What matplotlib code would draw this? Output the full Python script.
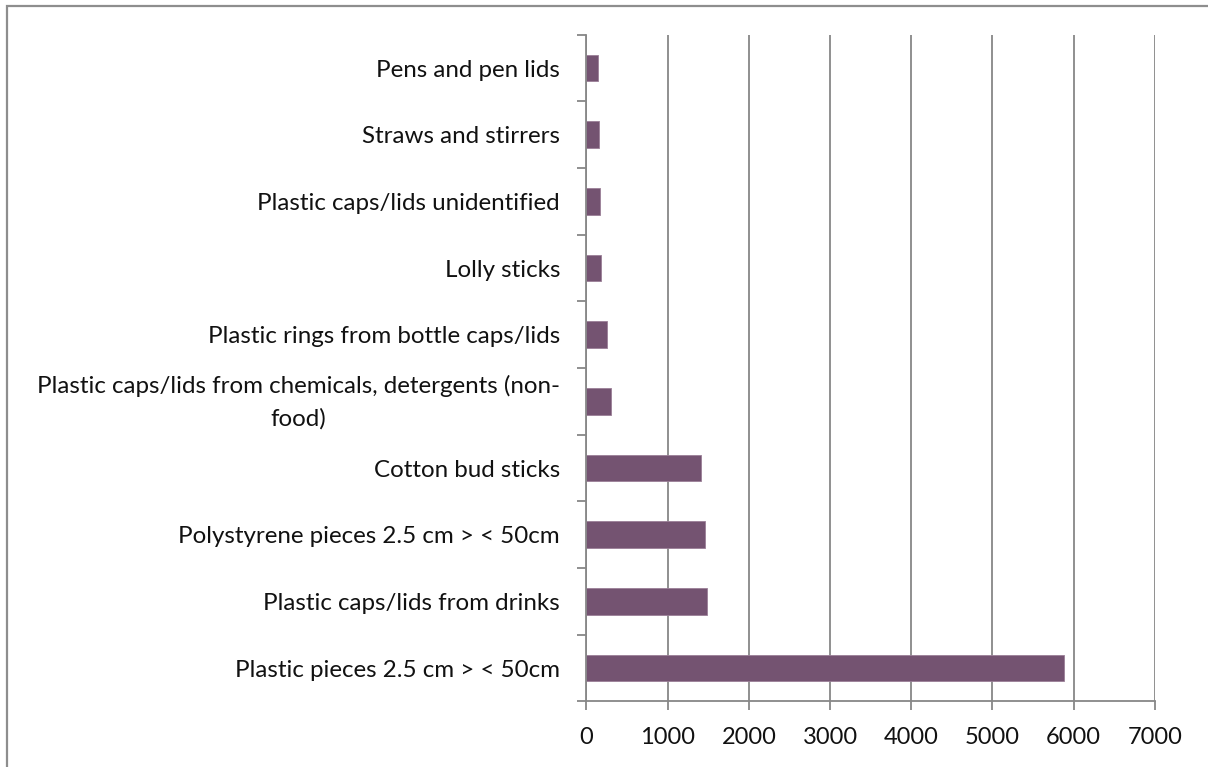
import matplotlib
matplotlib.use("Agg")
import matplotlib.pyplot as plt
from matplotlib.patches import Rectangle
from matplotlib.ticker import FixedLocator

# Litter items (bottom to top) and their counts
categories = [
    "Plastic pieces 2.5 cm > < 50cm",
    "Plastic caps/lids from drinks",
    "Polystyrene pieces 2.5 cm > < 50cm",
    "Cotton bud sticks",
    "Plastic caps/lids from chemicals, detergents (non-\nfood)",
    "Plastic rings from bottle caps/lids",
    "Lolly sticks",
    "Plastic caps/lids unidentified",
    "Straws and stirrers",
    "Pens and pen lids",
]
counts = [5887, 1482, 1458, 1408, 308, 254, 176, 172, 156, 145]
x_ticks = [0, 1000, 2000, 3000, 4000, 5000, 6000, 7000]

plt.rcParams["font.family"] = ["Lato", "DejaVu Sans"]

fig = plt.figure(figsize=(12.08, 7.67), dpi=100)
fig.patch.set_facecolor("white")
ax = fig.add_axes([0.4855, 0.0854, 0.9559 - 0.4855, 0.9548 - 0.0854])

axis_grey = "#878787"
bar_color = "#745371"
label_size = 17.4
label_pad = 19

y = list(range(len(categories)))
ax.barh(y, counts, height=0.4, color=bar_color, edgecolor="#9a7f97",
        linewidth=0.6, zorder=3)

ax.set_xlim(0, 7000)
ax.set_ylim(-0.5, len(categories) - 0.5)
ax.set_xticks(x_ticks)
ax.set_xticklabels([str(v) for v in x_ticks])
ax.set_yticks(y)

# Single-line labels go on the ticks; wrapped labels are placed as text so
# the two-line block can sit centred on its category
tick_texts = []
for yi, cat in zip(y, categories):
    if "\n" in cat:
        tick_texts.append("")
        ax.annotate(cat, xy=(0, yi), xycoords=("axes fraction", "data"),
                    xytext=(-label_pad, -0.6), textcoords="offset points",
                    ha="right", va="center", multialignment="center",
                    linespacing=1.6, fontsize=label_size, color="#111111")
    else:
        tick_texts.append(cat)
ax.set_yticklabels(tick_texts)

ax.yaxis.set_minor_locator(FixedLocator([i - 0.5 for i in range(len(categories) + 1)]))
ax.tick_params(axis="y", which="major", length=0, pad=label_pad,
               labelsize=label_size, labelcolor="#111111")
ax.tick_params(axis="y", which="minor", length=6.2, width=1.3, color=axis_grey,
               direction="out")
ax.tick_params(axis="x", which="major", length=6.2, width=1.3, color=axis_grey,
               pad=12.5, labelsize=17, labelcolor="#111111")

ax.grid(axis="x", color=axis_grey, linewidth=1.3, zorder=0)
ax.set_axisbelow(True)

for side in ("top", "right"):
    ax.spines[side].set_visible(False)
for side in ("left", "bottom"):
    ax.spines[side].set_color(axis_grey)
    ax.spines[side].set_linewidth(1.3)
    ax.spines[side].set_zorder(4)

# Chart frame, running off the right and bottom edges
fig.add_artist(Rectangle((6.5 / 1208, -0.05), 1.2, 1 - 5.5 / 767 + 0.05,
                         transform=fig.transFigure, fill=False,
                         edgecolor="#8e8e8e", linewidth=1.6))

fig.savefig("out.png", dpi=100, facecolor="white")
